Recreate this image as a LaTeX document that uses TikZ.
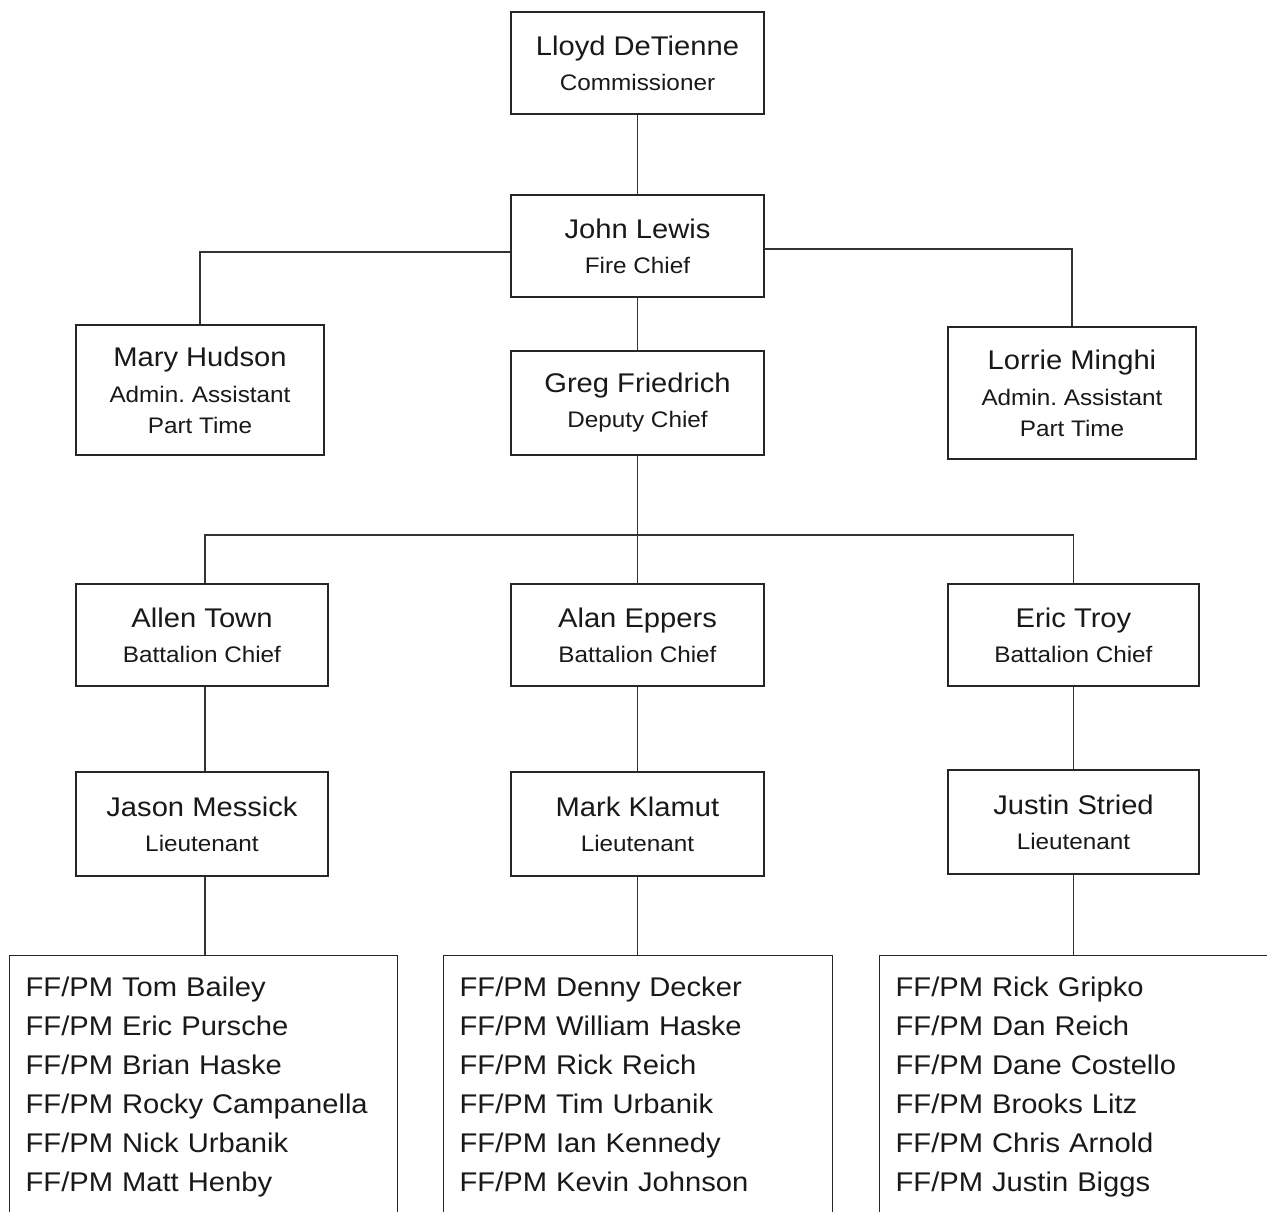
\documentclass[tikz,border=0pt]{standalone}
\usepackage{fontspec}
\setmainfont{Liberation Sans}[FakeStretch=1.08]
\newcommand{\nmfont}{\fontsize{27}{35}\selectfont}
\newcommand{\tlfont}{\fontsize{22.5}{31}\selectfont}
\newcommand{\lsfont}{\fontsize{27}{39}\selectfont}
\frenchspacing
\begin{document}
\begin{tikzpicture}[x=1pt,y=-1pt,
  box/.style={draw=black!85,line width=1.3pt,fill=white,align=center,inner sep=0pt,font=\tlfont,text=black!90},
  listbox/.style={draw=black!85,line width=1.3pt,fill=white,align=left,anchor=north west,
    inner xsep=16pt,inner ysep=21pt,font=\lsfont,text=black!90},
  conn/.style={draw=black!80,line width=1.1pt}]
\useasboundingbox (0,0) rectangle (1267,1211);
\clip (0,0) rectangle (1267,1211);
% top levels
\node[box,minimum width=253pt,minimum height=102pt] (lloyd) at (637.5,63)
  {{\nmfont Lloyd DeTienne}\\[4pt]Commissioner};
\node[box,minimum width=253pt,minimum height=102pt] (john) at (637.5,246)
  {{\nmfont John Lewis}\\[4pt]Fire Chief};
\node[box,minimum width=248pt,minimum height=130pt] (mary) at (200,390)
  {{\nmfont Mary Hudson}\\[5pt]Admin. Assistant\\Part Time};
\node[box,minimum width=253pt,minimum height=104pt] (greg) at (637.5,403)
  {{\nmfont Greg Friedrich}\\[4pt]Deputy Chief};
\node[box,minimum width=248pt,minimum height=132pt] (lorrie) at (1072,393)
  {{\nmfont Lorrie Minghi}\\[5pt]Admin. Assistant\\Part Time};
% battalion chiefs
\node[box,minimum width=252pt,minimum height=102pt] (allen) at (202,635)
  {{\nmfont Allen Town}\\[4pt]Battalion Chief};
\node[box,minimum width=253pt,minimum height=102pt] (alan) at (637.5,635)
  {{\nmfont Alan Eppers}\\[4pt]Battalion Chief};
\node[box,minimum width=251pt,minimum height=102pt] (eric) at (1073.5,635)
  {{\nmfont Eric Troy}\\[4pt]Battalion Chief};
% lieutenants
\node[box,minimum width=252pt,minimum height=104pt] (jason) at (202,824)
  {{\nmfont Jason Messick}\\[4pt]Lieutenant};
\node[box,minimum width=253pt,minimum height=104pt] (mark) at (637.5,824)
  {{\nmfont Mark Klamut}\\[4pt]Lieutenant};
\node[box,minimum width=251pt,minimum height=104pt] (justin) at (1073.5,822)
  {{\nmfont Justin Stried}\\[4pt]Lieutenant};
% crews
\node[listbox,text width=356pt] (crew1) at (9,955)
  {FF/PM Tom Bailey\\FF/PM Eric Pursche\\FF/PM Brian Haske\\FF/PM Rocky Campanella\\FF/PM Nick Urbanik\\FF/PM Matt Henby\rule[-15pt]{0pt}{15pt}};
\node[listbox,text width=357pt] (crew2) at (443,955)
  {FF/PM Denny Decker\\FF/PM William Haske\\FF/PM Rick Reich\\FF/PM Tim Urbanik\\FF/PM Ian Kennedy\\FF/PM Kevin Johnson\rule[-15pt]{0pt}{15pt}};
\node[listbox,text width=378pt] (crew3) at (879,955)
  {FF/PM Rick Gripko\\FF/PM Dan Reich\\FF/PM Dane Costello\\FF/PM Brooks Litz\\FF/PM Chris Arnold\\FF/PM Justin Biggs\rule[-15pt]{0pt}{15pt}};
% connectors
\draw[conn] (lloyd.south) -- (john.north);
\draw[conn] ([yshift=-6pt]john.west) -| (mary.north);
\draw[conn] ([yshift=-3pt]john.east) -| (lorrie.north);
\draw[conn] (john.south) -- (greg.north);
\coordinate (bus) at (637.5,535);
\draw[conn] (greg.south) -- (bus);
\draw[conn] ([xshift=3pt]allen.north) |- (bus) -| (eric.north);
\draw[conn] (bus) -- (alan.north);
\draw[conn] ([xshift=3pt]allen.south) -- ([xshift=3pt]jason.north);
\draw[conn] (alan.south) -- (mark.north);
\draw[conn] (eric.south) -- (justin.north);
\draw[conn] ([xshift=3pt]jason.south) -- ([xshift=3pt]jason.south |- crew1.north);
\draw[conn] (mark.south) -- (mark.south |- crew2.north);
\draw[conn] (justin.south) -- (justin.south |- crew3.north);
\end{tikzpicture}
\end{document}
